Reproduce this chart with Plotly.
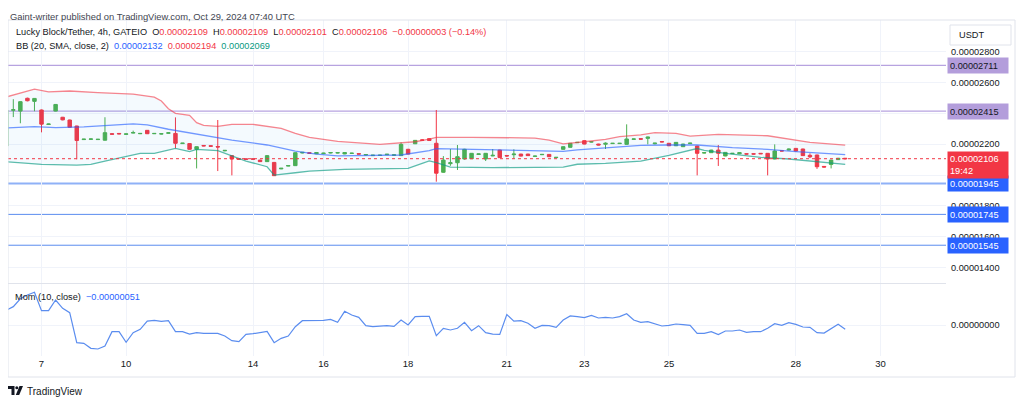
import plotly.graph_objects as go

E = 1e-8  # price unit: values below are in 1e-8 USDT

# ---------------- data ----------------
candle_idx = list(range(120))
open_e8 = [2188, 2420, 2415, 2498, 2478, 2422, 2328, 2415, 2375, 2357,
           2318, 2230, 2232, 2230, 2226, 2268, 2270, 2264, 2272, 2268,
           2290, 2268, 2266, 2271, 2270, 2204, 2204, 2167, 2192, 2190,
           2185, 2157, 2126, 2105, 2105, 2105, 2097, 2087, 2082, 2040,
           2058, 2061, 2143, 2145, 2138, 2139, 2143, 2143, 2137, 2140,
           2139, 2130, 2126, 2127, 2132, 2128, 2126, 2167, 2203, 2228,
           2236, 2206, 2018, 2074, 2080, 2104, 2106, 2134, 2104, 2124,
           2162, 2127, 2132, 2136, 2136, 2121, 2132, 2134, 2113, 2167,
           2180, 2210, 2223, 2214, 2201, 2200, 2204, 2204, 2199, 2232,
           2236, 2238, 2203, 2217, 2206, 2190, 2184, 2204, 2188, 2143,
           2145, 2162, 2124, 2139, 2138, 2138, 2138, 2141, 2141, 2104,
           2158, 2162, 2173, 2169, 2128, 2130, 2056, 2069, 2100, 2109]
high_e8 = [2425, 2492, 2478, 2502, 2499, 2425, 2333, 2460, 2377, 2359,
           2320, 2234, 2236, 2234, 2375, 2270, 2271, 2268, 2288, 2272,
           2292, 2272, 2270, 2276, 2374, 2208, 2206, 2186, 2194, 2192,
           2357, 2162, 2128, 2107, 2106, 2106, 2099, 2130, 2085, 2046,
           2063, 2147, 2149, 2146, 2147, 2144, 2147, 2147, 2147, 2144,
           2140, 2134, 2130, 2131, 2136, 2132, 2212, 2170, 2227, 2232,
           2238, 2422, 2123, 2169, 2195, 2170, 2143, 2138, 2143, 2169,
           2164, 2129, 2167, 2138, 2138, 2125, 2136, 2136, 2117, 2186,
           2208, 2214, 2225, 2218, 2203, 2212, 2208, 2208, 2329, 2236,
           2238, 2249, 2208, 2219, 2208, 2214, 2203, 2209, 2190, 2147,
           2164, 2195, 2149, 2143, 2147, 2139, 2139, 2142, 2143, 2199,
           2159, 2172, 2175, 2171, 2141, 2132, 2058, 2099, 2111, 2109]
low_e8 = [2185, 2376, 2336, 2478, 2414, 2277, 2326, 2413, 2355, 2308,
          2102, 2228, 2230, 2228, 2224, 2263, 2265, 2262, 2270, 2266,
          2266, 2266, 2264, 2269, 2173, 2202, 2165, 2043, 2187, 2185,
          2026, 2155, 1998, 2101, 2100, 2100, 2085, 2085, 1994, 2038,
          2056, 2059, 2141, 2139, 2136, 2138, 2141, 2141, 2135, 2138,
          2134, 2128, 2124, 2125, 2130, 2126, 2124, 2134, 2201, 2224,
          2222, 1957, 2015, 2060, 2033, 2100, 2104, 2132, 2091, 2122,
          2111, 2118, 2108, 2121, 2124, 2119, 2130, 2117, 2111, 2165,
          2178, 2208, 2199, 2212, 2193, 2169, 2202, 2202, 2197, 2230,
          2231, 2199, 2199, 2213, 2188, 2188, 2182, 2202, 1998, 2141,
          2143, 2059, 2122, 2137, 2136, 2134, 2134, 2137, 1998, 2102,
          2154, 2160, 2154, 2124, 2110, 2040, 2050, 2043, 2098, 2101]
close_e8 = [2422, 2424, 2476, 2482, 2497, 2330, 2331, 2458, 2358, 2310,
            2224, 2233, 2234, 2232, 2275, 2265, 2267, 2267, 2276, 2270,
            2268, 2270, 2268, 2274, 2206, 2207, 2167, 2184, 2189, 2187,
            2182, 2160, 2104, 2103, 2102, 2103, 2087, 2126, 1996, 2044,
            2062, 2145, 2147, 2141, 2146, 2142, 2146, 2145, 2146, 2142,
            2136, 2133, 2129, 2129, 2135, 2131, 2199, 2136, 2225, 2226,
            2224, 2012, 2097, 2080, 2119, 2167, 2141, 2137, 2141, 2128,
            2113, 2124, 2136, 2123, 2126, 2123, 2134, 2119, 2115, 2184,
            2206, 2212, 2201, 2216, 2195, 2206, 2206, 2206, 2234, 2234,
            2233, 2247, 2207, 2215, 2190, 2212, 2201, 2207, 2141, 2145,
            2162, 2141, 2147, 2141, 2145, 2136, 2136, 2138, 2104, 2156,
            2156, 2168, 2156, 2126, 2118, 2054, 2052, 2097, 2109, 2106]

# Bollinger Bands (20, SMA, close, 2), sampled at candle indices
bb_upper_idx = [0, 4, 6, 9, 13, 18, 21, 22, 23, 24, 26, 27, 28, 30, 32, 35, 39, 41, 43, 47,
                53, 56, 58, 60, 61, 66, 75, 77, 79, 82, 85, 87, 90, 92, 95, 97, 101, 108, 112, 114, 119]
bb_upper_e8 = [2506, 2557, 2540, 2545, 2535, 2525, 2505, 2480, 2430, 2400, 2387, 2340, 2322, 2316,
               2329, 2329, 2303, 2270, 2245, 2218, 2199, 2212, 2216, 2233, 2245, 2245, 2240, 2227,
               2202, 2216, 2232, 2249, 2260, 2275, 2270, 2253, 2264, 2255, 2227, 2212, 2194]
bb_basis_idx = [0, 4, 7, 11, 18, 20, 23, 25, 30, 32, 37, 41, 44, 47, 56, 58, 60, 61, 64, 69,
                73, 79, 81, 90, 94, 98, 103, 108, 112, 119]
bb_basis_e8 = [2305, 2314, 2307, 2312, 2332, 2326, 2297, 2281, 2242, 2227, 2195, 2155, 2136, 2125,
               2130, 2145, 2158, 2172, 2169, 2162, 2158, 2154, 2163, 2192, 2195, 2195, 2178, 2167,
               2152, 2132]
bb_lower_idx = [0, 5, 10, 12, 14, 17, 19, 21, 24, 26, 27, 30, 31, 34, 37, 38, 41, 43, 48, 57,
                59, 60, 61, 63, 69, 73, 79, 81, 85, 90, 94, 98, 99, 102, 107, 111, 115, 119]
bb_lower_e8 = [2087, 2069, 2065, 2069, 2091, 2119, 2141, 2141, 2173, 2152, 2167, 2158, 2141, 2091,
               2054, 2000, 2015, 2026, 2037, 2043, 2076, 2092, 2080, 2052, 2048, 2048, 2052, 2070,
               2076, 2090, 2128, 2172, 2160, 2141, 2115, 2104, 2087, 2069]

# Momentum (10, close)
mom_e8 = [175, 217, 310, 355, 387, 170, 170, 296, 197, 146,
          -209, -217, -276, -284, -249, -79, -79, -205, -91, -51,
          47, 55, 43, 51, -79, -79, -107, -91, -99, -99,
          -99, -130, -185, -197, -110, -103, -91, -75, -209, -158,
          -130, -20, 51, 51, 51, 55, 67, 32, 162, 118,
          91, -8, -20, -12, -8, -16, 59, 0, 99, 103,
          103, -126, -39, -59, -39, 32, -67, -8, -91, -107,
          -112, 124, 45, 51, 20, -39, -4, -8, -28, 59,
          107, 99, 87, 114, 83, 91, 83, 99, 134, 59,
          32, 39, 12, -12, -4, 12, 4, -4, -99, -99,
          -79, -114, -71, -71, -59, -87, -79, -79, -39, 16,
          -4, 28, 8, -24, -28, -91, -95, -39, 8, -51]

# time axis
day_tick_idx = [5, 17, 35, 45, 57, 71, 82, 94, 112, 124]
day_tick_text = ["7", "10", "14", "16", "18", "21", "23", "25", "28", "30"]

# price axis
price_tick_e8 = [1400, 1600, 1800, 2000, 2200, 2400, 2600, 2800]
price_tick_text = ["0.00001400", "0.00001600", "0.00001800", "", "0.00002200", "", "0.00002600", "0.00002800"]

purple_levels_e8 = [2711, 2415]
blue_levels_e8 = [1945, 1745, 1545]
last_price_e8 = 2106
countdown = "19:42"

header_text = "Gaint-writer published on TradingView.com, Oct 29, 2024 07:40 UTC"
symbol_text = "Lucky Block/Tether, 4h, GATEIO"
ohlc_labels = ["O", "H", "L", "C"]
ohlc_values = ["0.00002109", "0.00002109", "0.00002101", "0.00002106"]
change_text = "\u22120.00000003 (\u22120.14%)"
bb_title = "BB (20, SMA, close, 2)"
bb_values = ["0.00002132", "0.00002194", "0.00002069"]
mom_title = "Mom (10, close)"
mom_value = "\u22120.00000051"


def sc(v):
    return [x * E for x in v]


# ---------------- layout geometry (window pixels) ----------------
# the page body adds an 8px margin, so the figure itself starts at (8, 8)
OFF = 8
WIN_W, WIN_H = 1024, 406
W, H = WIN_W - OFF, WIN_H - OFF
L, R, T, B = 8, 946, 20, 377            # plot area in window pixels
PW, PH = R - L, B - T


def fx(px):
    return (px - L) / PW


def fy(py):
    return (B - py) / PH


RED = "#f23645"
GREEN = "#4caf50"
BLUE = "#2962ff"
TEAL = "#089981"
TXT = "#131722"
GRID = "#f0f3fa"
FONT = "Liberation Sans"

fig = go.Figure()

# Bollinger fill
fig.add_trace(go.Scatter(
    x=bb_upper_idx + bb_lower_idx[::-1],
    y=sc(bb_upper_e8 + bb_lower_e8[::-1]),
    fill="toself", fillcolor="rgba(33,150,243,0.05)",
    line=dict(width=0), mode="lines", hoverinfo="skip"))
fig.add_trace(go.Scatter(x=bb_upper_idx, y=sc(bb_upper_e8), mode="lines",
                         line=dict(color="rgba(242,54,69,0.6)", width=1.3)))
fig.add_trace(go.Scatter(x=bb_basis_idx, y=sc(bb_basis_e8), mode="lines",
                         line=dict(color="rgba(41,98,255,0.65)", width=1.3)))
fig.add_trace(go.Scatter(x=bb_lower_idx, y=sc(bb_lower_e8), mode="lines",
                         line=dict(color="rgba(8,153,129,0.65)", width=1.3)))

fig.add_trace(go.Candlestick(
    x=candle_idx, open=sc(open_e8), high=sc(high_e8), low=sc(low_e8), close=sc(close_e8),
    increasing=dict(line=dict(color=GREEN, width=1), fillcolor=GREEN),
    decreasing=dict(line=dict(color=RED, width=1), fillcolor=RED),
    whiskerwidth=0))

fig.add_trace(go.Scatter(x=candle_idx, y=sc(mom_e8), mode="lines", yaxis="y2",
                         line=dict(color="#5b8def", width=1.2)))

shapes = []
for lv in purple_levels_e8:
    shapes.append(dict(type="line", xref="paper", yref="y", x0=0, x1=1, y0=lv * E, y1=lv * E,
                       line=dict(color="#b7a3e0", width=1.3), layer="between"))
for k, lv in enumerate(blue_levels_e8):
    shapes.append(dict(type="line", xref="paper", yref="y", x0=0, x1=1, y0=lv * E, y1=lv * E,
                       line=dict(color="#8fb1f7" if k == 0 else "#5b8def", width=2 if k == 0 else 1),
                       layer="between"))
shapes.append(dict(type="line", xref="paper", yref="y", x0=0, x1=1,
                   y0=last_price_e8 * E, y1=last_price_e8 * E,
                   line=dict(color=RED, width=1, dash="dot"), layer="above"))

FR = "#e0e3eb"
# frame
for (x0, y0, x1, y1) in [(L, T, 1015, T), (L, B, 1015, B), (L, T, L, B), (1015, T, 1015, B),
                         (L, 283.5, R, 283.5)]:
    shapes.append(dict(type="line", xref="paper", yref="paper", x0=fx(x0), x1=fx(x1),
                       y0=fy(y0), y1=fy(y1), line=dict(color=FR, width=1)))


def path(points):
    s = "M " + " L ".join(f"{fx(px):.5f},{fy(py):.5f}" for px, py in points) + " Z"
    return s


# USDT box
shapes.append(dict(type="rect", xref="paper", yref="paper", x0=fx(950), x1=fx(1011),
                   y0=fy(45), y1=fy(25), line=dict(color=FR, width=1), fillcolor="white"))
# TradingView logo
shapes.append(dict(type="path", xref="paper", yref="paper",
                   path=path([(8, 386), (14.5, 386), (14.5, 395), (11.5, 395), (11.5, 389), (8, 389)]),
                   fillcolor=TXT, line=dict(width=0)))
shapes.append(dict(type="circle", xref="paper", yref="paper", x0=fx(15.3), x1=fx(18.3),
                   y0=fy(389.3), y1=fy(386.3), fillcolor=TXT, line=dict(width=0)))
shapes.append(dict(type="path", xref="paper", yref="paper",
                   path=path([(19.5, 386), (23, 386), (19.2, 395), (15.8, 395)]),
                   fillcolor=TXT, line=dict(width=0)))

ann = []


def sp(t, c):
    return f'<span style="color:{c}">{t}</span>'


nb = "\u00a0"
line1 = sp(symbol_text, TXT) + nb * 2
for lab, val in zip(ohlc_labels, ohlc_values):
    line1 += sp(lab, TXT) + sp(val, RED) + nb * 2
line1 += sp(change_text, RED)
line2 = sp(bb_title, TXT) + nb * 2 + sp(bb_values[0], BLUE) + nb * 2 + sp(bb_values[1], RED) + \
    nb * 2 + sp(bb_values[2], TEAL)

ann.append(dict(xref="paper", yref="paper", x=fx(8), y=fy(8.6), xanchor="left", yanchor="top",
                text=header_text, showarrow=False, font=dict(size=9.4, color="#434651", family=FONT)))
ann.append(dict(xref="paper", yref="paper", x=fx(14), y=fy(32), xanchor="left", yanchor="middle",
                text=line1, showarrow=False, font=dict(size=9.2, color=TXT, family=FONT)))
ann.append(dict(xref="paper", yref="paper", x=fx(14), y=fy(46), xanchor="left", yanchor="middle",
                text=line2, showarrow=False, font=dict(size=9.2, color=TXT, family=FONT)))
ann.append(dict(xref="paper", yref="paper", x=fx(13), y=fy(297), xanchor="left", yanchor="middle",
                text=sp(mom_title, TXT) + nb * 2 + sp(mom_value, BLUE), showarrow=False,
                font=dict(size=9.2, color=TXT, family=FONT)))
ann.append(dict(xref="paper", yref="paper", x=fx(957), y=fy(35), xanchor="left", yanchor="middle",
                text="USDT", showarrow=False, font=dict(size=9.2, color=TXT, family=FONT)))
ann.append(dict(xref="paper", yref="paper", x=fx(25), y=fy(391), xanchor="left", yanchor="middle",
                text="TradingView", showarrow=False, font=dict(size=10, color=TXT, family=FONT)))

for lv in purple_levels_e8:
    ann.append(dict(xref="paper", yref="y", x=fx(947), y=lv * E, xanchor="left", yanchor="middle",
                    text=f"0.0000{lv}", showarrow=False, bgcolor="#b39ddb", width=56, height=11,
                    borderpad=2, align="left", font=dict(size=9.2, color=TXT, family=FONT)))
for lv in blue_levels_e8:
    ann.append(dict(xref="paper", yref="y", x=fx(947), y=lv * E, xanchor="left", yanchor="middle",
                    text=f"0.0000{lv}", showarrow=False, bgcolor=BLUE, width=56, height=11,
                    borderpad=2, align="left", font=dict(size=9.2, color="white", family=FONT)))
ann.append(dict(xref="paper", yref="y", x=fx(947), y=last_price_e8 * E, xanchor="left", yanchor="top",
                yshift=8, text=f"0.0000{last_price_e8}<br>{countdown}", showarrow=False, bgcolor=RED,
                width=56, height=22, borderpad=2, align="left",
                font=dict(size=9.2, color="white", family=FONT)))

# axis ranges mapped to pixels
main_top_px, main_bot_px = T, 283
mom_top_px, mom_bot_px = 284, 356
# price axis: 0.00002800 at y=51.7 px, 0.1542 px per 1e-8
price_at_top = 2800 + (51.7 - main_top_px) / 0.1542
price_at_bot = 2800 - (main_bot_px - 51.7) / 0.1542
# momentum: zero at y=325 px, 0.0845 px per 1e-8
mom_at_top = (325 - mom_top_px) / 0.0845
mom_at_bot = -(mom_bot_px - 325) / 0.0845
# time axis: candle 0 centred at x=6.26 px, 7.05 px per candle
x_lo = (L - 6.26) / 7.05
x_hi = x_lo + PW / 7.05

fig.update_layout(
    width=W, height=H, margin=dict(l=L - OFF, r=WIN_W - R, t=T - OFF, b=WIN_H - B),
    paper_bgcolor="white", plot_bgcolor="white", showlegend=False,
    font=dict(family=FONT, color=TXT),
    shapes=shapes, annotations=ann,
    xaxis=dict(range=[x_lo, x_hi], domain=[0, 1], anchor="y2", tickvals=day_tick_idx,
               ticktext=day_tick_text, showgrid=True, gridcolor=GRID, gridwidth=1, zeroline=False,
               showline=False, ticks="", tickfont=dict(size=9.5, color=TXT, family=FONT),
               rangeslider=dict(visible=False), fixedrange=True),
    yaxis=dict(domain=[fy(main_bot_px), 1], range=[price_at_bot * E, price_at_top * E], side="right",
               anchor="x", tickvals=sc(price_tick_e8), ticktext=price_tick_text, showgrid=True,
               gridcolor=GRID, zeroline=False, showline=False, ticks="",
               tickfont=dict(size=9.2, color=TXT, family=FONT), ticklabelstandoff=4),
    yaxis2=dict(domain=[fy(mom_bot_px), fy(mom_top_px)], range=[mom_at_bot * E, mom_at_top * E],
                side="right", anchor="x", tickvals=[0], ticktext=["0.00000000"], showgrid=True,
                gridcolor=GRID, zeroline=False, showline=False, ticks="",
                tickfont=dict(size=9.2, color=TXT, family=FONT), ticklabelstandoff=4),
)

fig.write_html("out.html")
